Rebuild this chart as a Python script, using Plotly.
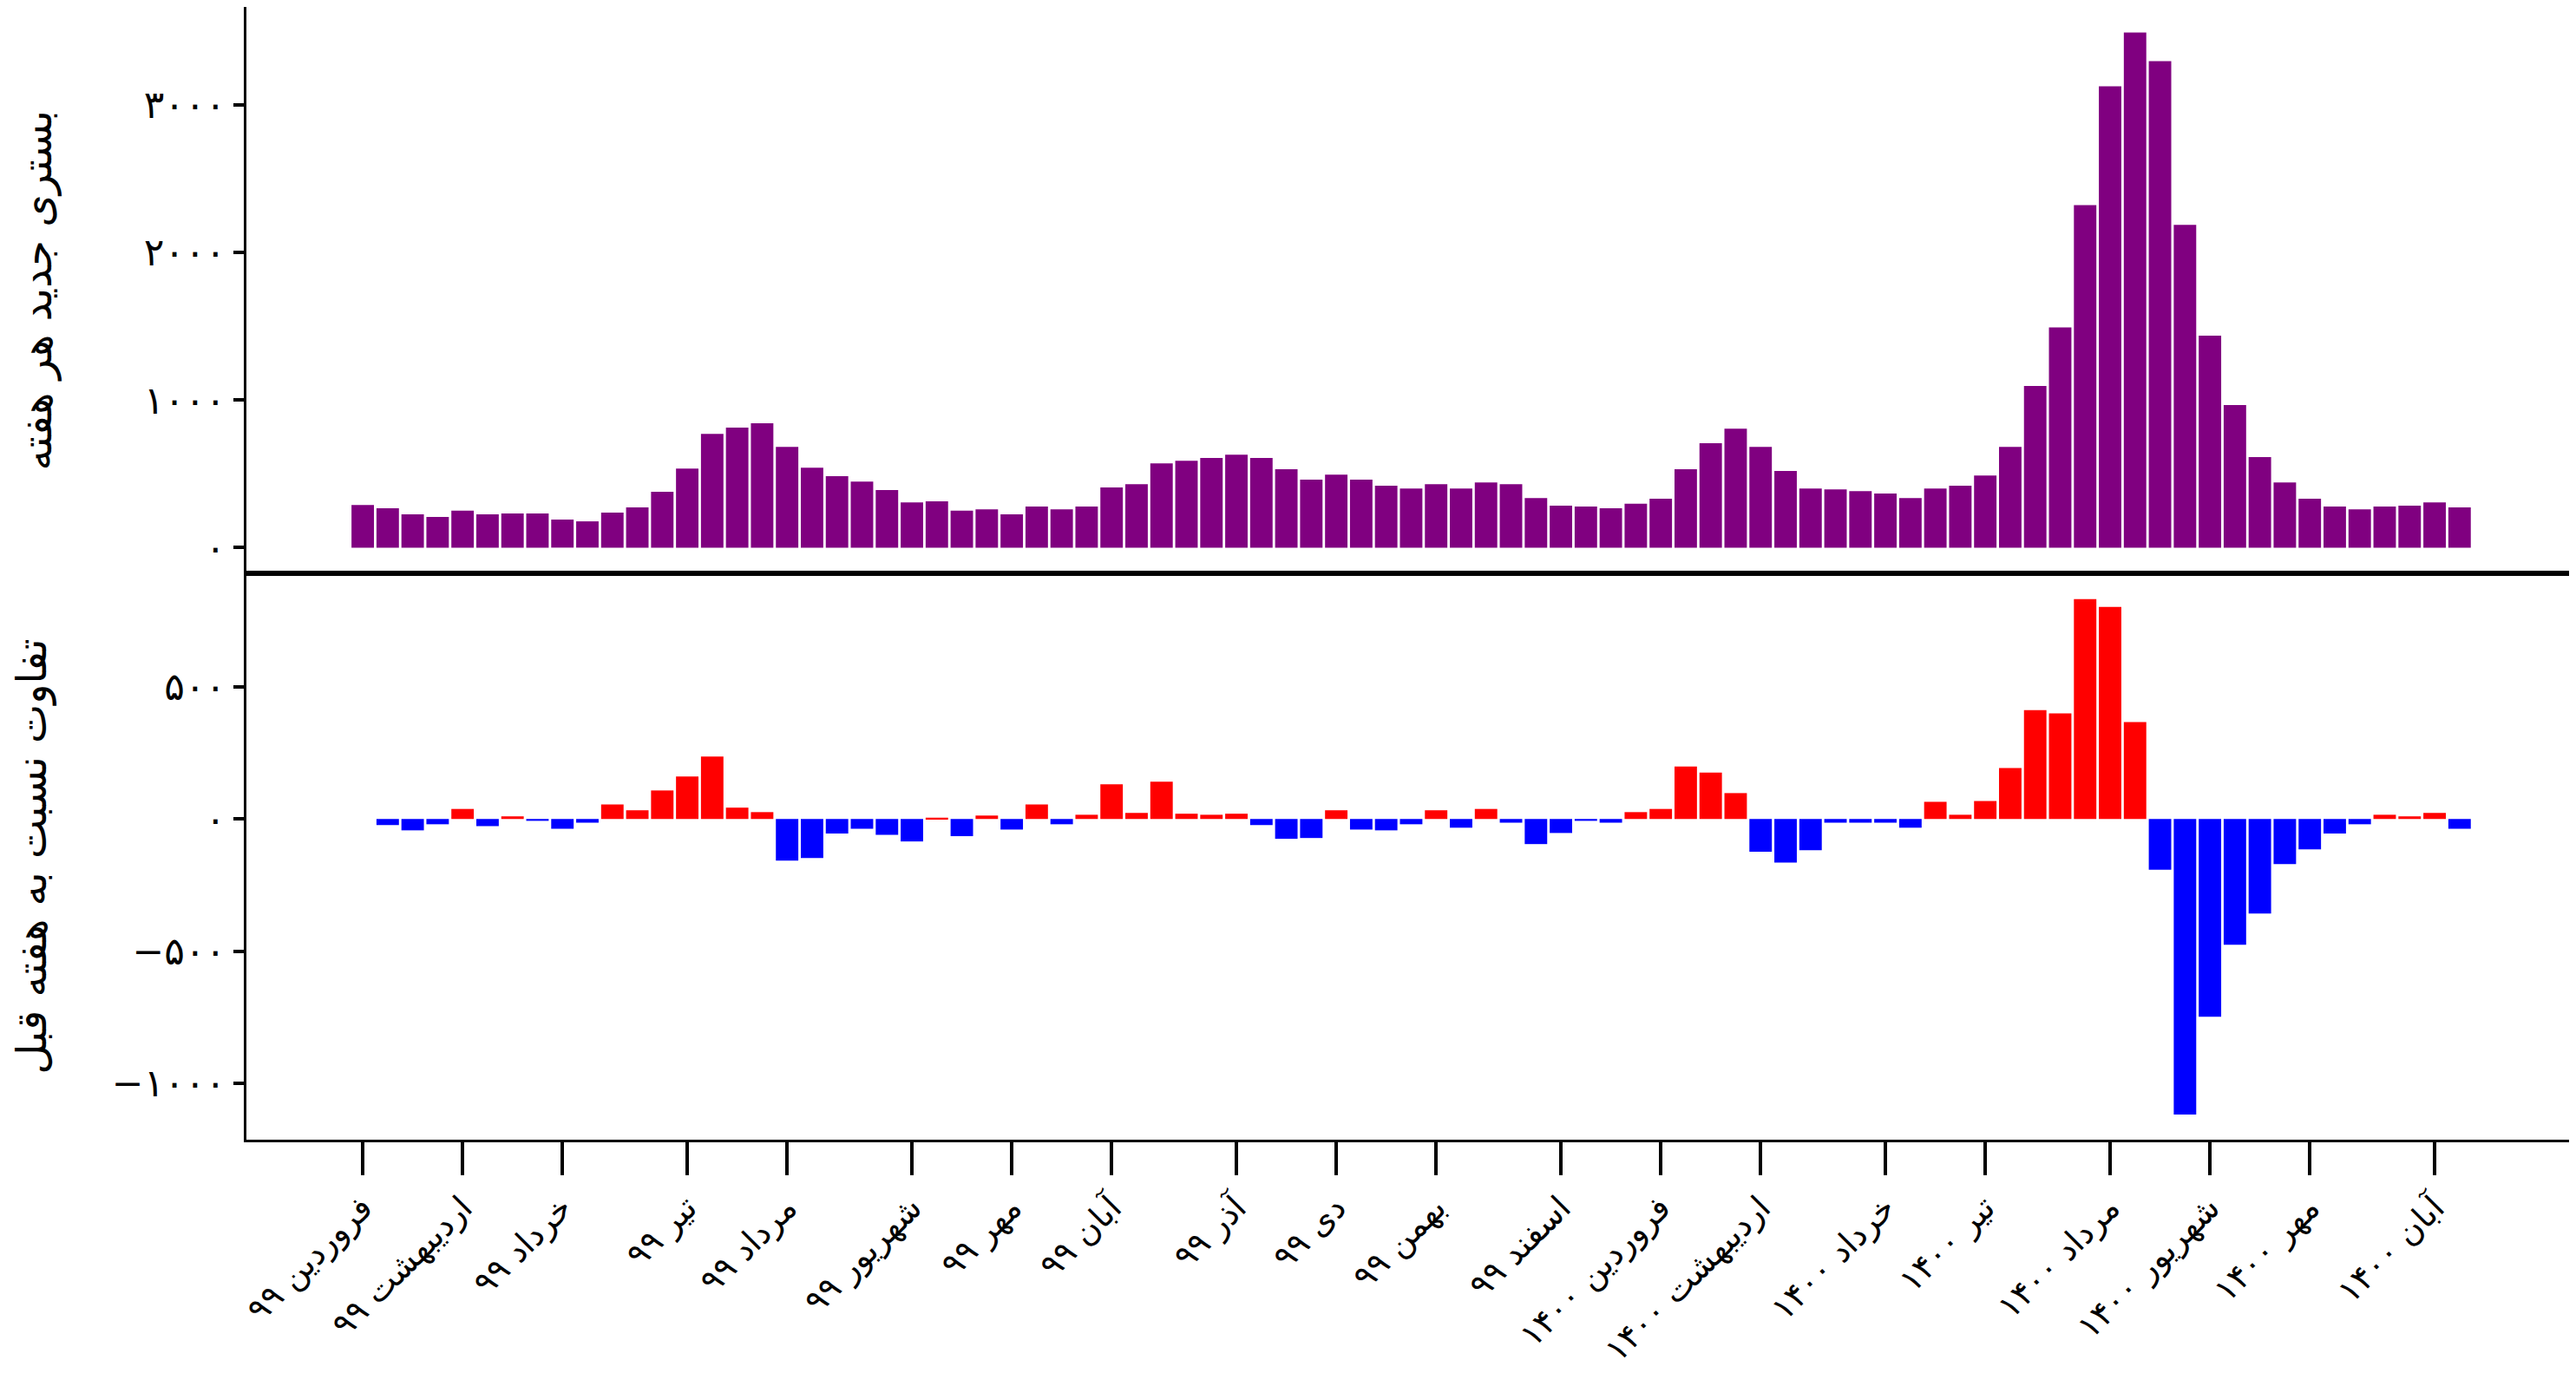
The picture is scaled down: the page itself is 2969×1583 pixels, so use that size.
# imports ---------------------------------------------------------------------

import plotly.graph_objs as go
from plotly.subplots import make_subplots

# data ------------------------------------------------------------------------

# new hospitalizations per week
weeklyAdmissions = [
	289, 267, 225, 208, 250, 225, 232, 232, 190, 178,
	237, 272, 378, 536, 771, 813, 843, 682, 541, 484,
	447, 390, 306, 314, 250, 259, 225, 279, 259, 279,
	408, 430, 571, 588, 608, 630, 608, 531, 460, 494,
	460, 420, 400, 430, 400, 442, 430, 336, 284, 279,
	267, 297, 331, 531, 707, 806, 682, 519, 400, 395,
	383, 366, 336, 400, 420, 489, 682, 1095, 1492, 2320,
	3126, 3489, 3296, 2187, 1436, 966, 613, 442, 331, 279,
	259, 279, 284, 306, 272,
]

# change versus the previous week (starts at the second week)
weeklyChange = [
	-23, -43, -20, 38, -27, 10, -7, -37, -14, 55,
	33, 108, 161, 236, 43, 26, -158, -148, -55, -37,
	-60, -85, 5, -65, 13, -40, 55, -20, 16, 131,
	23, 141, 20, 16, 20, -23, -75, -72, 33, -40,
	-43, -20, 33, -33, 38, -14, -95, -53, -7, -14,
	26, 38, 199, 176, 98, -124, -165, -118, -14, -14,
	-14, -33, 65, 16, 68, 193, 412, 400, 832, 803,
	367, -192, -1119, -749, -476, -358, -171, -115, -55, -20,
	16, 10, 23, -37,
]

weekIndex = list(range(len(weeklyAdmissions)))

# first week of each month and its label
monthWeeks = [0, 4, 8, 13, 17, 22, 26, 30, 35, 39,
	43, 48, 52, 56, 61, 65, 70, 74, 78, 83]
monthLabels = [
	'فروردین ۹۹', 'اردیبهشت ۹۹', 'خرداد ۹۹', 'تیر ۹۹', 'مرداد ۹۹',
	'شهریور ۹۹', 'مهر ۹۹', 'آبان ۹۹', 'آذر ۹۹', 'دی ۹۹',
	'بهمن ۹۹', 'اسفند ۹۹', 'فروردین ۱۴۰۰', 'اردیبهشت ۱۴۰۰', 'خرداد ۱۴۰۰',
	'تیر ۱۴۰۰', 'مرداد ۱۴۰۰', 'شهریور ۱۴۰۰', 'مهر ۱۴۰۰', 'آبان ۱۴۰۰',
]

topTickVals = [0, 1000, 2000, 3000]
topTickText = ['۰', '۱۰۰۰', '۲۰۰۰', '۳۰۰۰']
bottomTickVals = [-1000, -500, 0, 500]
bottomTickText = ['−۱۰۰۰', '−۵۰۰', '۰', '۵۰۰']

topTitle = 'بستری جدید هر هفته'
bottomTitle = 'تفاوت نسبت به هفته قبل'

# constants -------------------------------------------------------------------

FONT = 'DejaVu Sans'
PURPLE = '#800080'
RED = '#ff0000'
BLUE = '#0000ff'

# the page body adds an 8px margin, so the figure is 8px smaller than the window
FIG_W, FIG_H = 2961, 1575

# plot ------------------------------------------------------------------------

fig = make_subplots(rows=2, cols=1, shared_xaxes=True, vertical_spacing=0)

fig.add_trace(go.Bar(
	x=weekIndex,
	y=weeklyAdmissions,
	marker=dict(color=PURPLE, line=dict(width=0)),
	showlegend=False,
), row=1, col=1)

changeColors = [RED if v > 0 else BLUE for v in weeklyChange]
fig.add_trace(go.Bar(
	x=weekIndex[1:],
	y=weeklyChange,
	marker=dict(color=changeColors, line=dict(width=0)),
	showlegend=False,
), row=2, col=1)

axisStyle = dict(
	showline=True, linecolor='black', linewidth=3, mirror=True,
	showgrid=False, zeroline=False,
)

fig.update_xaxes(axisStyle, range=[-4.66, 88.56])
fig.update_xaxes(showticklabels=False, ticks='', row=1, col=1)
fig.update_xaxes(
	tickvals=monthWeeks, ticktext=monthLabels, tickangle=-45,
	ticks='outside', ticklen=38, tickwidth=4, tickcolor='black',
	tickfont=dict(family=FONT, size=38, color='black'),
	row=2, col=1)

fig.update_yaxes(axisStyle,
	ticks='outside', ticklen=12, tickwidth=4, tickcolor='black',
	tickfont=dict(family=FONT, size=44, color='black'))
fig.update_yaxes(
	range=[-174, 3663], tickvals=topTickVals, ticktext=topTickText,
	domain=[0.5, 1.0], row=1, col=1)
fig.update_yaxes(
	range=[-1214, 930], tickvals=bottomTickVals, ticktext=bottomTickText,
	domain=[0.0, 0.5], row=2, col=1)

# axis titles as rotated annotations so they sit where the original has them
titleFont = dict(family=FONT, size=48, color='black')
fig.add_annotation(text=topTitle, textangle=-90, font=titleFont,
	xref='paper', yref='paper', x=-0.0902, y=0.75,
	xanchor='center', yanchor='middle', showarrow=False)
fig.add_annotation(text=bottomTitle, textangle=-90, font=titleFont,
	xref='paper', yref='paper', x=-0.0921, y=0.25,
	xanchor='center', yanchor='middle', showarrow=False)

fig.update_layout(
	width=FIG_W, height=FIG_H,
	margin=dict(l=276, r=3, t=0, b=269, autoexpand=False),
	paper_bgcolor='white', plot_bgcolor='white',
	bargap=0.1,
	font=dict(family=FONT, color='black'),
)

fig.write_html('out.html')
